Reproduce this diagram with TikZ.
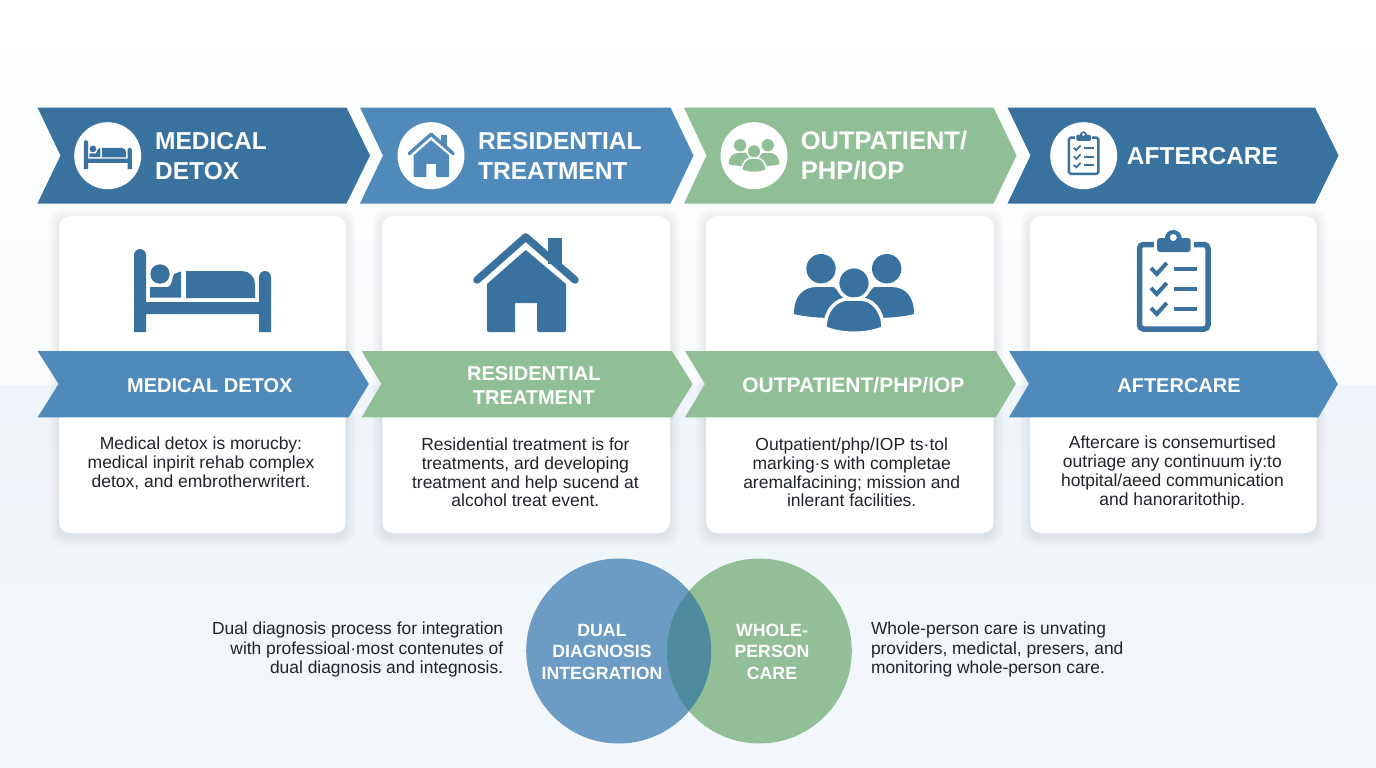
\documentclass[tikz,border=0pt]{standalone}
\usepackage{fontspec}
\setmainfont{Liberation Sans}
\definecolor{darkblue}{HTML}{39719F}
\definecolor{midblue}{HTML}{4F8ABB}
\definecolor{softgreen}{HTML}{90BF95}
\definecolor{venblue}{HTML}{6C9BC4}
\definecolor{vengreen}{HTML}{93BF97}
\definecolor{venmix}{HTML}{4F8B9F}
\definecolor{bodyink}{HTML}{20242A}
\definecolor{shadowblue}{HTML}{5A6E82}
\definecolor{pagetop}{HTML}{FFFFFF}
\definecolor{pagemid}{HTML}{F9FBFD}
\definecolor{pagelow}{HTML}{EFF5FA}
\definecolor{pageend}{HTML}{F4F8FC}
\colorlet{iconc}{darkblue}
\tikzset{
  icon size/.code={\def\iconsc{#1}\tikzset{scale=#1}},
  icon colour/.code={\colorlet{iconc}{#1}},
  irc/.style={rounded corners=#1*\iconsc*1pt},
  card/.style={fill=white,rounded corners=11pt},
  headtext/.style={text=white,font=\fontsize{24.5}{30}\selectfont\bfseries,align=left,anchor=west,inner sep=0pt},
  bandtext/.style={text=white,font=\fontsize{20}{24}\selectfont\bfseries,align=center,inner sep=0pt},
  ventext/.style={text=white,font=\fontsize{17.7}{21.5}\selectfont\bfseries,align=center,inner sep=0pt},
  bodytext/.style={text=bodyink,font=\fontsize{17.5}{18.8}\selectfont,align=center,inner sep=0pt},
  sidetext/.style={text=bodyink,font=\fontsize{17.4}{19.2}\selectfont,inner sep=0pt},
  bedicon/.pic={
    \begin{scope}[shift={(-202.5,-290.5)}]
    \fill[iconc] (134,332) [irc=6] -- (134,249) -- (146,249) [sharp corners] -- (146,302) -- (259,302)
      [irc=6] -- (259,271) -- (271,271) [sharp corners] -- (271,332) -- (259,332) -- (259,314) -- (146,314) -- (146,332) -- cycle;
    \fill[iconc] (160,274) circle (9.7);
    \fill[iconc] (150,287) -- (168,287) .. controls (172,286) and (172,278) .. (174,274) -- (181,271.5) -- (181,297.5) -- (150,297.5) -- cycle;
    \fill[iconc] (186,271) [irc=13] -- (255,271) [sharp corners] -- (255,298) -- (186,298) -- cycle;
    \end{scope}
  },
  houseicon/.pic={
    \begin{scope}[shift={(-526,-282)}]
    \fill[iconc] (548,238) rectangle (562,264);
    \draw[iconc,line width=\iconsc*7.5pt,line cap=round,line join=round] (477,280) -- (525.7,237) -- (575,280);
    \fill[iconc] (487,284) -- (525.7,250) -- (566,284) [irc=2] -- (566,332) -- (537,332) [sharp corners] -- (537,303) -- (515,303) -- (515,332) [irc=2] -- (487,332) [sharp corners] -- cycle;
    \end{scope}
  },
  peopleicon/.pic={
    \begin{scope}[shift={(-854,-293)}]
    \fill[iconc] (821,268.7) circle (14.7);
    \fill[iconc] (886.7,268.7) circle (14.7);
    \fill[iconc] (794,314) .. controls (794,296) and (803,287) .. (817,287) -- (834,287) -- (846,300) -- (835,318) .. controls (820,318) and (806,317) .. (794,314) -- cycle;
    \fill[iconc] (914,314) .. controls (914,296) and (905,287) .. (891,287) -- (874,287) -- (862,300) -- (873,318) .. controls (888,318) and (902,317) .. (914,314) -- cycle;
    \filldraw[iconc,draw=white,line width=\iconsc*3.5pt] (854,283) circle (16.4);
    \filldraw[iconc,draw=white,line width=\iconsc*3.5pt] (825,328) .. controls (825,310) and (836,299) .. (848,299) -- (860,299) .. controls (872,299) and (883,310) .. (883,328) .. controls (866,335) and (842,335) .. (825,328) -- cycle;
    \end{scope}
  },
  clipicon/.pic={
    \begin{scope}[shift={(-1173.5,-285)}]
    \draw[iconc,line width=\iconsc*5.5pt,irc=4] (1139.5,244.5) rectangle (1208,329);
    \fill[white] (1154,238) rectangle (1194,250);
    \fill[iconc] (1173.3,238.5) circle (8.5);
    \fill[iconc,irc=3] (1157,238) rectangle (1190.7,252);
    \fill[white] (1173.3,237.5) circle (3.5);
    \foreach \rowy in {0,20,40} {
      \draw[iconc,line width=\iconsc*4pt] (1151,268+\rowy) -- (1156.7,274+\rowy) -- (1166.7,263+\rowy);
      \draw[iconc,line width=\iconsc*4pt] (1174,269+\rowy) -- (1197.3,269+\rowy);
    }
    \end{scope}
  }
}
\begin{document}
\begin{tikzpicture}[x=1pt,y=-1pt]
\useasboundingbox (0,0) rectangle (1376,768);

% page background
\shade[top color=pagetop,bottom color=pagemid] (0,0) rectangle (1376,385);
\shade[top color=pagelow,bottom color=pageend] (0,385) rectangle (1376,768);

% top arrows
\fill[darkblue] (37.5,107.5)--(346.5,107.5)--(370,155.5)--(346.5,203.5)--(37.5,203.5)--(60.5,155.5)--cycle;
\fill[midblue] (360,107.5)--(670.5,107.5)--(693.5,155.5)--(670.5,203.5)--(360,203.5)--(383,155.5)--cycle;
\fill[softgreen] (684,107.5)--(993.5,107.5)--(1016.5,155.5)--(993.5,203.5)--(684,203.5)--(706.5,155.5)--cycle;
\fill[darkblue] (1007.5,107.5)--(1315,107.5)--(1338.5,155.5)--(1315,203.5)--(1007.5,203.5)--(1030.5,155.5)--cycle;

% cards with a soft shadow
\foreach \xa/\xb in {59/345.7,382.3/670,706/993.7,1030/1316.7} {
  \foreach \grow in {1,...,10} {
    \fill[shadowblue,opacity=.011,rounded corners=13pt] (\xa-\grow,216-\grow+3) rectangle (\xb+\grow,533+\grow+3);
  }
  \fill[card] (\xa,216) rectangle (\xb,533);
}

% middle arrows
\fill[midblue] (37.6,351)--(348.6,351)--(368.8,384)--(348.6,417.3)--(37.6,417.3)--(58.6,384)--cycle;
\fill[softgreen] (361.6,351)--(672,351)--(692.6,384)--(672,417.3)--(361.6,417.3)--(381.4,384)--cycle;
\fill[softgreen] (685,351)--(995.7,351)--(1015.9,384)--(995.7,417.3)--(685,417.3)--(705,384)--cycle;
\fill[midblue] (1009,351)--(1318.5,351)--(1337.8,384)--(1318.5,417.3)--(1009,417.3)--(1029,384)--cycle;

% icons in the top arrows
\fill[white] (107.7,155.7) circle (33.5);
\fill[white] (431,155.7) circle (33.5);
\fill[white] (754,155.7) circle (33.5);
\fill[white] (1083.7,155.7) circle (33.5);
\pic[icon size=.35] at (107.8,154.7) {bedicon};
\pic[icon size=.45,icon colour=midblue] at (431.2,154.5) {houseicon};
\pic[icon size=.42,icon colour=softgreen] at (754,155.5) {peopleicon};
\pic[icon size=.43] at (1083.5,155) {clipicon};

% large icons
\pic[icon size=1] at (202.5,290.5) {bedicon};
\pic[icon size=1] at (526,282) {houseicon};
\pic[icon size=1] at (854,293) {peopleicon};
\pic[icon size=1] at (1173.5,285) {clipicon};

% titles
\node[headtext] (detoxhead) at (155,156) {MEDICAL\\DETOX};
\node[headtext] (residhead) at (478,156) {RESIDENTIAL\\TREATMENT};
\node[headtext,font=\fontsize{25.5}{30}\selectfont\bfseries] (outpthead) at (800.7,156) {OUTPATIENT/\\PHP/IOP};
\node[headtext] (afterhead) at (1126.7,156) {AFTERCARE};

\node[bandtext] (detoxband) at (209.8,385.5) {MEDICAL DETOX};
\node[bandtext] (residband) at (533.8,385.5) {RESIDENTIAL\\TREATMENT};
\node[bandtext,font=\fontsize{21}{24}\selectfont\bfseries] (outptband) at (853.4,385.5) {OUTPATIENT/PHP/IOP};
\node[bandtext] (afterband) at (1179,385.5) {AFTERCARE};

% card texts
\node[bodytext] (detoxtext) at (201,463.5) {Medical detox is morucby:\\medical inpirit rehab complex\\detox, and embrotherwritert.};
\node[bodytext] (residtext) at (525.4,472.5) {Residential treatment is for\\treatments, ard developing\\treatment and help sucend at\\alcohol treat event.};
\node[bodytext] (outpttext) at (851.7,472.5) {Outpatient/php/IOP ts·tol\\marking·s with completae\\aremalfacining; mission and\\inlerant facilities.};
\node[bodytext] (aftertext) at (1172.4,472.5) {Aftercare is consemurtised\\outriage any continuum iy:to\\hotpital/aeed communication\\and hanoraritothip.};

% the two circles
\node[circle,fill=venblue,minimum size=185pt,inner sep=0pt] (dualcirc) at (618.7,651) {};
\node[circle,fill=vengreen,minimum size=185pt,inner sep=0pt] (wholecirc) at (759.3,651) {};
\begin{scope}
\clip (618.7,651) circle (92.5);
\fill[venmix] (759.3,651) circle (92.5);
\end{scope}
\node[ventext] (dualtext) at (602,651.5) {DUAL\\DIAGNOSIS\\INTEGRATION};
\node[ventext] (wholetext) at (772,651.5) {WHOLE-\\PERSON\\CARE};

\node[sidetext,align=right,anchor=east] (dualside) at (503.4,649.5) {Dual diagnosis process for integration\\with professioal·most contenutes of\\dual diagnosis  and integnosis.};
\node[sidetext,align=left,anchor=west] (wholeside) at (870.8,649.5) {Whole-person care is unvating\\providers, medictal, presers, and\\monitoring whole-person care.};
\end{tikzpicture}
\end{document}
